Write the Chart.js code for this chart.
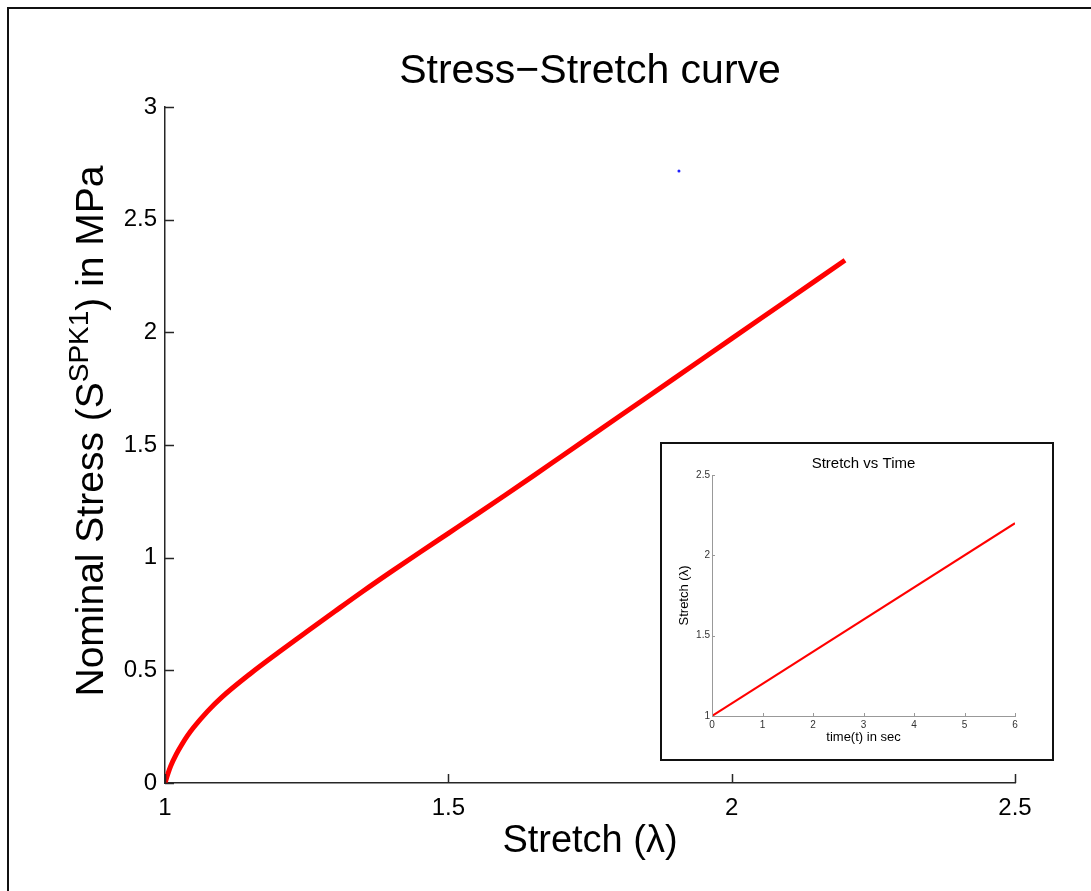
<!DOCTYPE html>
<html>
<head>
<meta charset="utf-8">
<script src="https://cdn.jsdelivr.net/npm/chart.js@4.4.1/dist/chart.umd.min.js"></script>
<style>
  html, body { margin: 0; padding: 0; background: #fff; overflow: hidden; }
  #frame { position: absolute; left: 7px; top: 7px; width: 2000px; height: 2000px;
           border-left: 2px solid #111; border-top: 2px solid #111; }
  #main { position: absolute; left: 0; top: 0; }
  #insetBox { position: absolute; left: 660px; top: 442px; width: 390px; height: 315px;
              border: 2px solid #111; background: #fff; }
  #inset { position: absolute; left: 0; top: 0; }
</style>
</head>
<body>
<div id="frame"></div>
<canvas id="main" width="1091" height="891"></canvas>
<div id="insetBox"><canvas id="inset" width="390" height="315"></canvas></div>
<script>
// stress-stretch response (stretch, nominal stress in MPa)
const stretch = [1, 1.005, 1.01, 1.02, 1.03, 1.04, 1.05, 1.075, 1.1, 1.15, 1.2, 1.25, 1.3, 1.35, 1.4,
                 1.45, 1.5, 1.55, 1.6, 1.65, 1.7, 1.75, 1.8, 1.85, 1.9, 1.95, 2.0, 2.05, 2.1, 2.15, 2.2];
const stress  = [0, 0.04, 0.075, 0.128, 0.172, 0.211, 0.245, 0.318, 0.38, 0.484, 0.579, 0.671, 0.762, 0.852, 0.939,
                 1.024, 1.108, 1.192, 1.277, 1.363, 1.45, 1.537, 1.624, 1.711, 1.798, 1.885, 1.972, 2.059, 2.146, 2.233, 2.32];
// stray marker near the top
const markerX = [1.907];
const markerY = [2.716];
const stretchTicks = [1, 1.5, 2, 2.5];
const stressTicks = [0, 0.5, 1, 1.5, 2, 2.5, 3];

// loading history for the inset
const time = [0, 6];
const stretchVsTime = [1, 2.2];
const timeTicks = [0, 1, 2, 3, 4, 5, 6];
const insetStretchTicks = [1, 1.5, 2, 2.5];

const FONT = '"Liberation Sans", Arial, Helvetica, sans-serif';

function toPoints(xs, ys) {
  return xs.map((x, i) => ({ x: x, y: ys[i] }));
}

// plain number labels: 1, 1.5, 2 ...
const plainLabel = v => String(+(+v).toFixed(3));

// MATLAB-style inward tick marks plus title/axis labels
function axesDecor(cfg) {
  return {
    id: 'axesDecor',
    afterDraw(chart) {
      const ctx = chart.ctx;
      const xs = chart.scales.x, ys = chart.scales.y;
      const a = chart.chartArea;
      ctx.save();
      ctx.strokeStyle = cfg.axisColor;
      ctx.lineWidth = cfg.axisWidth;
      ctx.beginPath();
      cfg.xTicks.forEach(v => {
        const px = Math.round(xs.getPixelForValue(v)) + 0.5;
        ctx.moveTo(px, a.bottom);
        ctx.lineTo(px, a.bottom - cfg.tickLen);
      });
      cfg.yTicks.forEach(v => {
        const py = Math.round(ys.getPixelForValue(v)) + 0.5;
        ctx.moveTo(a.left, py);
        ctx.lineTo(a.left + cfg.tickLen, py);
      });
      ctx.stroke();

      ctx.fillStyle = '#000';
      ctx.textAlign = 'center';
      ctx.textBaseline = 'alphabetic';
      const cx = (a.left + a.right) / 2;
      ctx.font = cfg.titleFont + 'px ' + FONT;
      ctx.fillText(cfg.title, cx, cfg.titleY);
      ctx.font = cfg.labelFont + 'px ' + FONT;
      ctx.fillText(cfg.xLabel, cx, cfg.xLabelY);

      // rotated y label, with optional superscript piece
      const cy = (a.top + a.bottom) / 2 + cfg.yLabelShift;
      ctx.translate(cfg.yLabelX, cy);
      ctx.rotate(-Math.PI / 2);
      ctx.textAlign = 'left';
      const yFont = cfg.yLabelFont || cfg.labelFont;
      const parts = cfg.yLabel;
      let total = 0;
      parts.forEach(p => {
        ctx.font = (p.sup ? cfg.supFont : yFont) + 'px ' + FONT;
        total += ctx.measureText(p.t).width;
      });
      let x = -total / 2;
      parts.forEach(p => {
        ctx.font = (p.sup ? cfg.supFont : yFont) + 'px ' + FONT;
        ctx.fillText(p.t, x, p.sup ? -cfg.supRise : 0);
        x += ctx.measureText(p.t).width;
      });
      ctx.restore();
    }
  };
}

function fixedSize(w) { return s => { s.width = w; }; }
function fixedHeight(h) { return s => { s.height = h; }; }

new Chart(document.getElementById('main'), {
  type: 'line',
  data: {
    datasets: [{
      data: toPoints(stretch, stress),
      borderColor: '#ff0000',
      borderWidth: 5,
      pointRadius: 0,
      cubicInterpolationMode: 'monotone',
      borderCapStyle: 'butt'
    }, {
      type: 'scatter',
      data: toPoints(markerX, markerY),
      pointRadius: 1.5,
      pointBorderWidth: 0,
      backgroundColor: '#2020ff'
    }]
  },
  options: {
    responsive: false,
    animation: false,
    events: [],
    layout: { padding: { left: 65, top: 107, right: 76, bottom: 48 } },
    plugins: { legend: { display: false }, tooltip: { enabled: false } },
    scales: {
      x: {
        type: 'linear', min: 1, max: 2.5,
        afterBuildTicks: s => { s.ticks = stretchTicks.map(v => ({ value: v })); },
        afterFit: fixedHeight(60),
        grid: { display: false, drawTicks: false },
        border: { display: true, color: '#262626', width: 1.5 },
        ticks: { color: '#000', font: { family: FONT, size: 24 }, padding: 11, maxRotation: 0,
                 callback: plainLabel }
      },
      y: {
        type: 'linear', min: 0, max: 3,
        afterBuildTicks: s => { s.ticks = stressTicks.map(v => ({ value: v })); },
        afterFit: fixedSize(100),
        grid: { display: false, drawTicks: false },
        border: { display: true, color: '#262626', width: 1.5 },
        ticks: { color: '#000', font: { family: FONT, size: 24 }, padding: 8, callback: plainLabel }
      }
    }
  },
  plugins: [axesDecor({
    axisColor: '#262626', axisWidth: 1.5, tickLen: 9,
    xTicks: stretchTicks, yTicks: stressTicks,
    title: 'Stress\u2212Stretch curve', titleFont: 41, titleY: 83,
    xLabel: 'Stretch (\u03bb)', xLabelY: 852, labelFont: 38,
    yLabel: [{ t: 'Nominal Stress (S' }, { t: 'SPK1', sup: true }, { t: ') in MPa' }],
    yLabelFont: 39, supFont: 28, supRise: 15, yLabelX: 103, yLabelShift: -14
  })]
});

new Chart(document.getElementById('inset'), {
  type: 'line',
  data: {
    datasets: [{
      data: toPoints(time, stretchVsTime),
      borderColor: '#ff0000',
      borderWidth: 2,
      pointRadius: 0
    }]
  },
  options: {
    responsive: false,
    animation: false,
    events: [],
    layout: { padding: { left: 20, top: 31, right: 37, bottom: 23 } },
    plugins: { legend: { display: false }, tooltip: { enabled: false } },
    scales: {
      x: {
        type: 'linear', min: 0, max: 6,
        afterBuildTicks: s => { s.ticks = timeTicks.map(v => ({ value: v })); },
        afterFit: fixedHeight(20),
        grid: { display: false, drawTicks: false },
        border: { display: true, color: '#999', width: 1 },
        ticks: { color: '#333', font: { family: FONT, size: 10 }, padding: 3, maxRotation: 0,
                 callback: plainLabel }
      },
      y: {
        type: 'linear', min: 1, max: 2.5,
        afterBuildTicks: s => { s.ticks = insetStretchTicks.map(v => ({ value: v })); },
        afterFit: fixedSize(30),
        grid: { display: false, drawTicks: false },
        border: { display: true, color: '#999', width: 1 },
        ticks: { color: '#333', font: { family: FONT, size: 10 }, padding: 2, callback: plainLabel }
      }
    }
  },
  plugins: [axesDecor({
    axisColor: '#999', axisWidth: 1, tickLen: 3,
    xTicks: timeTicks, yTicks: insetStretchTicks,
    title: 'Stretch vs Time', titleFont: 15, titleY: 24,
    xLabel: 'time(t) in sec', xLabelY: 297, labelFont: 13,
    yLabel: [{ t: 'Stretch (\u03bb)' }], yLabelFont: 13,
    supFont: 9, supRise: 0, yLabelX: 26, yLabelShift: 0
  })]
});
</script>
</body>
</html>
